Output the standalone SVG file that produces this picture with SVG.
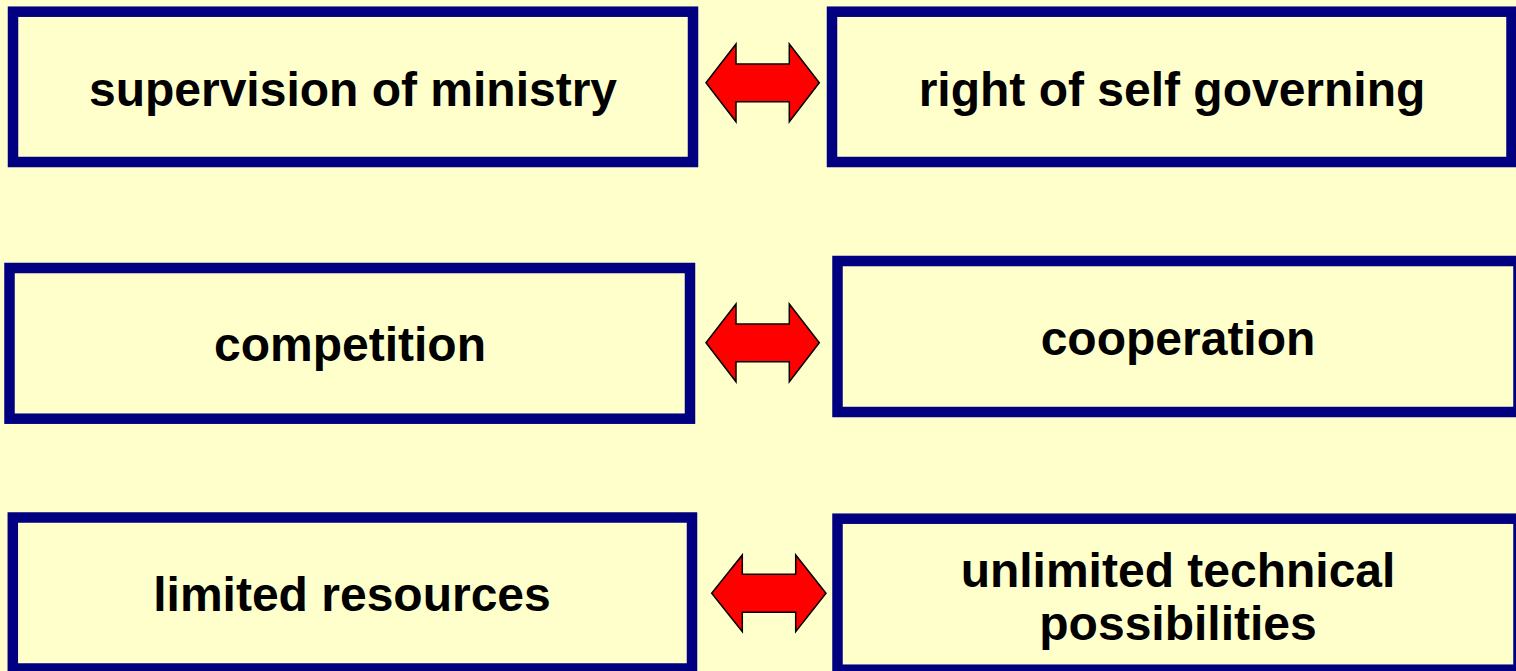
<svg xmlns="http://www.w3.org/2000/svg" width="1516" height="671" viewBox="0 0 1516 671">
<style>
.box{fill:#FFFFCC;stroke:#000080;stroke-width:10.5}
.lbl{font-family:"Liberation Sans",Arial,sans-serif;font-weight:bold;font-size:48px;fill:#000;text-anchor:middle}
.arr{fill:#FF0000;stroke:#000;stroke-width:1.5;stroke-linejoin:miter}
</style>
<rect width="1516" height="671" fill="#FFFFCC"/>
<g id="n1"><rect class="box" x="13" y="11.7" width="680" height="150.3"/><text class="lbl" x="353" y="106">supervision of ministry</text></g>
<g id="n2"><rect class="box" x="832" y="11.7" width="679.5" height="150.3"/><text class="lbl" x="1172" y="106">right of self governing</text></g>
<g id="n3"><rect class="box" x="9.5" y="268" width="680.5" height="150.7"/><text class="lbl" x="350" y="361">competition</text></g>
<g id="n4"><rect class="box" x="837.5" y="261" width="681" height="151"/><text class="lbl" x="1178" y="355">cooperation</text></g>
<g id="n5"><rect class="box" x="12.8" y="517.5" width="679.2" height="151"/><text class="lbl" x="352" y="611">limited resources</text></g>
<g id="n6"><rect class="box" x="837.5" y="518.7" width="681" height="151"/><text class="lbl" x="1178" y="587">unlimited technical</text><text class="lbl" x="1178" y="640">possibilities</text></g>
<g id="connectors">
<polygon class="arr" points="706,82.7 736,44 736,64 789.3,64 789.3,44 819.3,82.7 789.3,121.7 789.3,101.7 736,101.7 736,121.7"/>
<polygon class="arr" points="706,342.7 736,304 736,324 789.3,324 789.3,304 819.3,342.7 789.3,381.7 789.3,361.7 736,361.7 736,381.7"/>
<polygon class="arr" points="711.7,593.3 742.3,555 742.3,574.3 795.7,574.3 795.7,555 826,593.3 795.7,631.7 795.7,612.3 742.3,612.3 742.3,631.7"/>
</g>
</svg>
